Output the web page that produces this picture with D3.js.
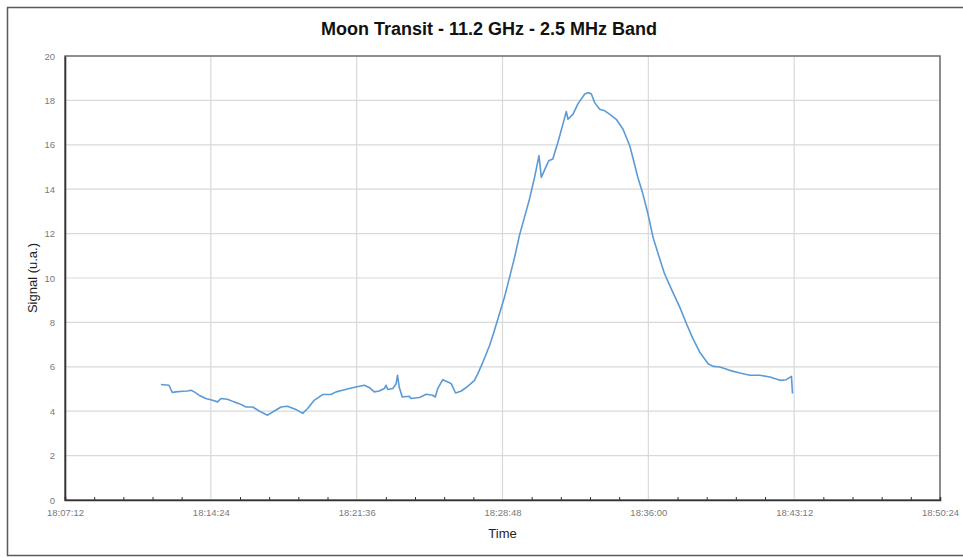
<!DOCTYPE html>
<html>
<head>
<meta charset="utf-8">
<script src="https://cdn.jsdelivr.net/npm/d3@7"></script>
<style>
  html, body { margin: 0; padding: 0; background: #fff; }
  svg { display: block; font-family: "Liberation Sans", Arial, sans-serif; }
</style>
</head>
<body>
<div id="container"></div>
<script>
// signal readings (time of day, signal u.a.)
const times = [
  "18:11:56","18:12:20","18:12:30","18:12:40","18:13:00","18:13:15","18:13:25","18:13:35","18:13:49","18:14:09",
  "18:14:29","18:14:44","18:14:54","18:15:13","18:15:33","18:15:48","18:16:08","18:16:28","18:16:47","18:17:12",
  "18:17:32","18:17:52","18:18:11","18:18:36","18:18:56","18:19:11","18:19:30","18:19:55","18:20:20","18:20:35",
  "18:20:54","18:21:14","18:21:44","18:21:59","18:22:14","18:22:28","18:22:43","18:22:58","18:23:03","18:23:08",
  "18:23:23","18:23:33","18:23:37","18:23:42","18:23:51","18:24:12","18:24:17","18:24:42","18:25:02","18:25:21",
  "18:25:29","18:25:36","18:25:51","18:26:06","18:26:16","18:26:29","18:26:46","18:27:05","18:27:25","18:27:35",
  "18:27:48","18:28:00","18:28:10","18:28:24","18:28:39","18:28:54","18:29:09","18:29:24","18:29:38","18:29:53",
  "18:30:08","18:30:23","18:30:36","18:30:43","18:30:56","18:31:05","18:31:17","18:31:32","18:31:47","18:31:57",
  "18:32:02","18:32:17","18:32:31","18:32:51","18:33:01","18:33:11","18:33:21","18:33:36","18:33:51","18:34:05",
  "18:34:25","18:34:45","18:35:05","18:35:14","18:35:29","18:35:44","18:35:59","18:36:14","18:36:29","18:36:48",
  "18:37:08","18:37:33","18:37:53","18:38:12","18:38:32","18:38:57","18:39:12","18:39:32","18:40:01","18:40:31",
  "18:41:01","18:41:30","18:42:00","18:42:30","18:42:49","18:43:04","18:43:07"
]
const signal = [
  5.20, 5.17, 4.84, 4.87, 4.90, 4.91, 4.94, 4.87, 4.72, 4.57,
  4.49, 4.42, 4.57, 4.54, 4.42, 4.34, 4.19, 4.19, 4.01, 3.82,
  4.01, 4.19, 4.22, 4.08, 3.90, 4.12, 4.49, 4.75, 4.75, 4.87,
  4.94, 5.02, 5.12, 5.17, 5.06, 4.87, 4.91, 5.02, 5.17, 4.98,
  5.02, 5.24, 5.62, 5.09, 4.64, 4.67, 4.57, 4.62, 4.76, 4.72,
  4.64, 5.02, 5.42, 5.32, 5.24, 4.82, 4.91, 5.12, 5.39, 5.69,
  6.14, 6.59, 6.97, 7.64, 8.39, 9.14, 10.04, 10.94, 11.91, 12.73,
  13.56, 14.53, 15.51, 14.53, 14.98, 15.28, 15.36, 16.10, 16.93, 17.50,
  17.15, 17.38, 17.83, 18.28, 18.35, 18.30, 17.90, 17.60, 17.53, 17.38,
  17.15, 16.70, 15.96, 15.43, 14.53, 13.78, 12.88, 11.83, 11.09, 10.19,
  9.51, 8.69, 7.94, 7.27, 6.67, 6.14, 6.02, 5.99, 5.84, 5.72,
  5.62, 5.62, 5.54, 5.39, 5.42, 5.57, 4.80
]
const xTickLabels = ["18:07:12","18:14:24","18:21:36","18:28:48","18:36:00","18:43:12","18:50:24"]
const yTicks = [0, 2, 4, 6, 8, 10, 12, 14, 16, 18, 20]

const title = "Moon Transit - 11.2 GHz - 2.5 MHz Band"

const width = 963
const height = 557
const margin = {top: 56, right: 23, bottom: 57, left: 65}

const parse = d3.timeParse("%H:%M:%S")
const data = times.map((t, i) => ({time: parse(t), value: signal[i]}))
const xTicks = xTickLabels.map(parse)

const svg = d3.select("#container").append("svg")
    .attr("width", width)
    .attr("height", height)

// outer chart frame
svg.append("rect")
    .attr("x", 7.5).attr("y", 7.5)
    .attr("width", width + 10).attr("height", 548)
    .attr("fill", "#fff")
    .attr("stroke", "#5a5a5a")
    .attr("stroke-width", 1.5)

const x = d3.scaleTime()
    .domain([xTicks[0], xTicks[xTicks.length - 1]])
    .range([margin.left, width - margin.right])

const y = d3.scaleLinear()
    .domain([0, 20])
    .range([height - margin.bottom, margin.top])

// grid
svg.append("g")
    .selectAll("line.h")
    .data(yTicks)
    .join("line")
    .attr("x1", margin.left).attr("x2", width - margin.right)
    .attr("y1", d => y(d)).attr("y2", d => y(d))
    .attr("stroke", "#d9d9d9")
    .attr("stroke-width", 1.2)

svg.append("g")
    .selectAll("line.v")
    .data(xTicks)
    .join("line")
    .attr("x1", d => x(d)).attr("x2", d => x(d))
    .attr("y1", margin.top).attr("y2", height - margin.bottom)
    .attr("stroke", "#d9d9d9")
    .attr("stroke-width", 1.2)

// plot box
svg.append("rect")
    .attr("x", margin.left).attr("y", margin.top)
    .attr("width", width - margin.left - margin.right)
    .attr("height", height - margin.top - margin.bottom)
    .attr("fill", "none")
    .attr("stroke", "#6e6e6e")
    .attr("stroke-width", 1.5)

// minor ticks: 5 per major interval
const minor = []
for (let i = 0; i < xTicks.length - 1; i++) {
    const step = (xTicks[i + 1] - xTicks[i]) / 5
    for (let k = 1; k < 5; k++) minor.push(new Date(+xTicks[i] + k * step))
}

const xAxis = svg.append("g")
    .attr("transform", `translate(0, ${height - margin.bottom})`)
    .call(d3.axisBottom(x).tickValues(minor).tickSize(-3).tickFormat(""))
xAxis.select(".domain").attr("stroke", "#333").attr("stroke-width", 1.6)
xAxis.selectAll(".tick line").attr("stroke", "#333")

const xLabels = svg.append("g")
    .attr("transform", `translate(0, ${height - margin.bottom})`)
    .call(d3.axisBottom(x).tickValues(xTicks).tickSize(0).tickPadding(9)
        .tickFormat((d, i) => xTickLabels[i]))
xLabels.select(".domain").remove()
xLabels.selectAll("text")
    .attr("fill", "#7a7a7a")
    .style("font-size", "9.5px")

const yAxis = svg.append("g")
    .attr("transform", `translate(${margin.left}, 0)`)
    .call(d3.axisLeft(y).tickValues(yTicks).tickSize(0).tickPadding(10))
yAxis.select(".domain").attr("stroke", "#333").attr("stroke-width", 1.6)
yAxis.selectAll("text")
    .attr("fill", "#7a7a7a")
    .style("font-size", "9.5px")

// signal line
const line = d3.line()
    .x(d => x(d.time))
    .y(d => y(d.value))

svg.append("path")
    .datum(data)
    .attr("fill", "none")
    .attr("stroke", "#5b9bd5")
    .attr("stroke-width", 1.6)
    .attr("stroke-linejoin", "round")
    .attr("d", line)

// titles
svg.append("text")
    .attr("x", 489).attr("y", 35)
    .attr("text-anchor", "middle")
    .style("font-size", "18px")
    .style("font-weight", "bold")
    .attr("fill", "#111")
    .text(title)

svg.append("text")
    .attr("transform", `translate(37, ${(margin.top + height - margin.bottom) / 2}) rotate(-90)`)
    .attr("text-anchor", "middle")
    .style("font-size", "13px")
    .attr("fill", "#222")
    .text("Signal (u.a.)")

svg.append("text")
    .attr("x", (margin.left + width - margin.right) / 2)
    .attr("y", 538)
    .attr("text-anchor", "middle")
    .style("font-size", "13px")
    .attr("fill", "#222")
    .text("Time")
</script>
</body>
</html>
